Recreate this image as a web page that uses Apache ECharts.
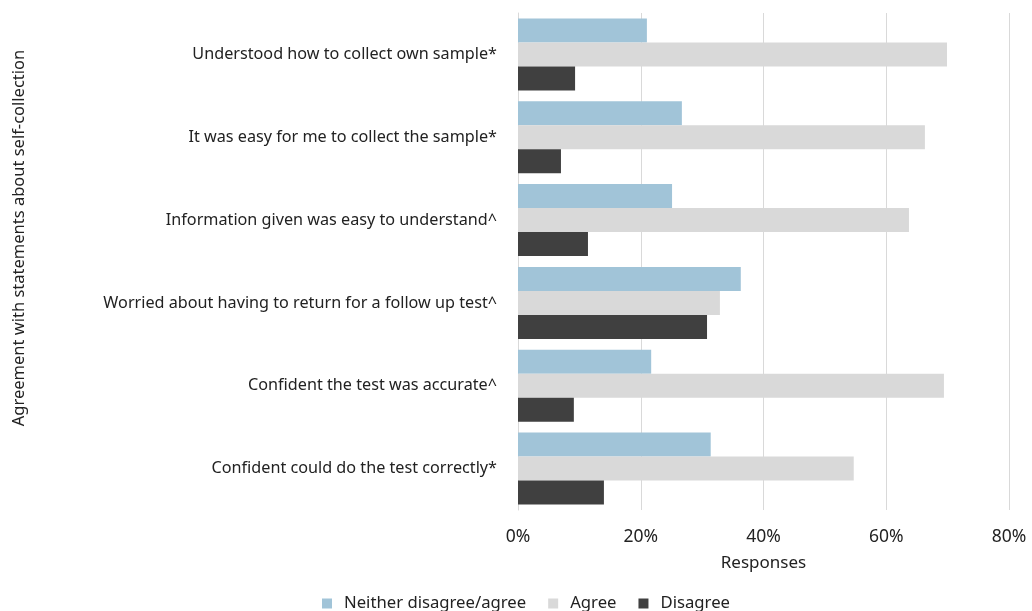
<!DOCTYPE html>
<html><head><meta charset="utf-8">
<script src="https://cdn.jsdelivr.net/npm/echarts@6/dist/echarts.min.js"></script>
<style>html,body{margin:0;padding:0;background:#fff}#c{width:1032px;height:611px}</style>
</head><body><div id="c"></div>
<script>
const categories = [
  "Understood how to collect own sample*",
  "It was easy for me to collect the sample*",
  "Information given was easy to understand^",
  "Worried about having to return for a follow up test^",
  "Confident the test was accurate^",
  "Confident could do the test correctly*"
];
const neitherValues = [21.0, 26.7, 25.1, 36.3, 21.7, 31.4];
const agreeValues = [69.9, 66.3, 63.7, 32.9, 69.4, 54.7];
const disagreeValues = [9.3, 7.0, 11.4, 30.8, 9.1, 14.0];
const xTicks = [0, 20, 40, 60, 80];
const yAxisTitle = 'Agreement with statements about self-collection';

const FONT = "Noto Sans";
const chart = echarts.init(document.getElementById('c'));
chart.setOption({
  animation: false,
  textStyle: {fontFamily: FONT},
  grid: {left: 518, right: 23, top: 13, bottom: 101, containLabel: false},
  legend: {
    bottom: -1, left: 322, padding: 0, itemWidth: 10, itemHeight: 10, itemGap: 22,
    icon: 'rect',
    textStyle: {fontSize: 16.7, color: '#222', fontFamily: FONT, padding: [0, 0, 0, 7]},
    data: ["Neither disagree/agree", "Agree", "Disagree"]
  },
  graphic: [{
    type: 'text', x: 19, y: 238, rotation: Math.PI / 2,
    style: {text: yAxisTitle, fontSize: 16.5, fill: '#222', fontFamily: FONT, align: 'center', verticalAlign: 'middle'}
  }],
  xAxis: {
    type: 'value', min: xTicks[0], max: xTicks[xTicks.length-1], interval: 20,
    name: 'Responses', nameLocation: 'middle', nameGap: 45,
    nameTextStyle: {fontSize: 17, color: '#222'},
    axisLine: {show: false}, axisTick: {show: false},
    axisLabel: {formatter: v => v + '%', fontSize: 17.5, color: '#222', margin: 18},
    splitLine: {lineStyle: {color: '#d9d9d9', width: 1}}
  },
  yAxis: {
    type: 'category', data: categories, inverse: true,
    axisLine: {show: true, lineStyle: {color: '#d9d9d9'}}, axisTick: {show: false},
    axisLabel: {fontSize: 16.2, color: '#222', margin: 21}
  },
  series: [
    {name: "Neither disagree/agree", type: 'bar', data: neitherValues, barGap: '0%', barCategoryGap: '13%', itemStyle: {color: '#a1c4d8'}},
    {name: "Agree", type: 'bar', data: agreeValues, barGap: '0%', barCategoryGap: '13%', itemStyle: {color: '#d9d9d9'}},
    {name: "Disagree", type: 'bar', data: disagreeValues, barGap: '0%', barCategoryGap: '13%', itemStyle: {color: '#404040'}}
  ]
});
</script></body></html>
